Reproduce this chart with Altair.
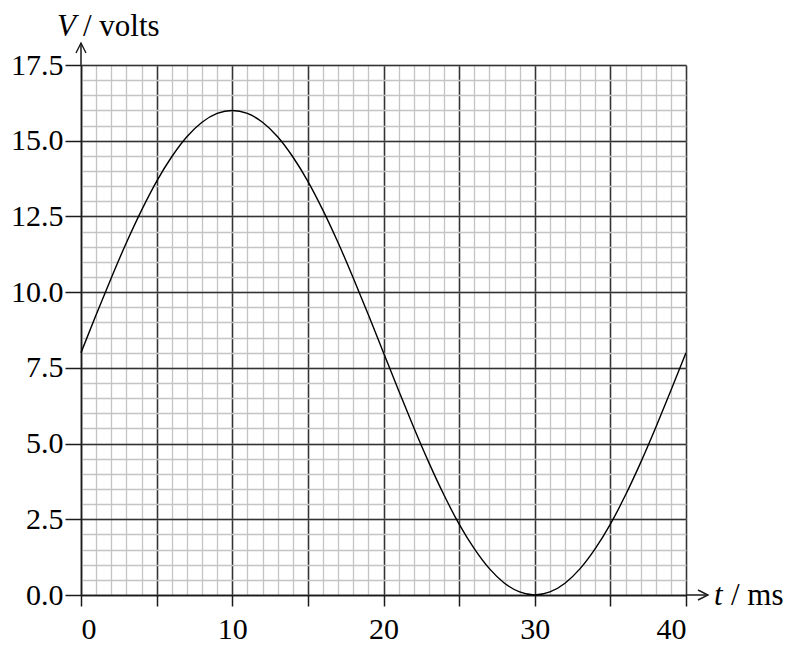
import altair as alt
import pandas as pd

# values
t_ms = list(range(0, 41))
v_volts = [8.00, 9.25, 10.47, 11.63, 12.70, 13.66, 14.47, 15.13, 15.61, 15.90,
           16.00, 15.90, 15.61, 15.13, 14.47, 13.66, 12.70, 11.63, 10.47, 9.25,
           8.00, 6.75, 5.53, 4.37, 3.30, 2.34, 1.53, 0.87, 0.39, 0.10,
           0.00, 0.10, 0.39, 0.87, 1.53, 2.34, 3.30, 4.37, 5.53, 6.75, 8.00]
x_major = [0, 5, 10, 15, 20, 25, 30, 35, 40]
y_major = [0, 2.5, 5, 7.5, 10, 12.5, 15, 17.5]
x_minor = list(range(0, 41))
y_minor = [i * 0.5 for i in range(0, 36)]

df = pd.DataFrame({"t": t_ms, "V": v_volts})

W, H = 605, 530
FONT = "Liberation Serif"
FS = 30
FT = 31

xs = alt.Scale(domain=[0, 40], nice=False, zero=False)
ys = alt.Scale(domain=[0, 17.5], nice=False, zero=False)

base = alt.Chart(df)

minor = base.mark_line(opacity=0).encode(
    x=alt.X("t:Q", scale=xs, axis=alt.Axis(values=x_minor, grid=True, gridColor="#c4c4c4",
                                            gridWidth=1.3, labels=False, ticks=False, domain=False,
                                            title=None, orient="bottom")),
    y=alt.Y("V:Q", scale=ys, axis=alt.Axis(values=y_minor, grid=True, gridColor="#c4c4c4",
                                            gridWidth=1.3, labels=False, ticks=False, domain=False,
                                            title=None, orient="left")),
)

major = base.mark_line(opacity=0).encode(
    x=alt.X("t:Q", scale=xs, axis=alt.Axis(values=x_major, grid=True, gridColor="#333333",
                                            gridWidth=1.5, labels=True, ticks=True, tickSize=11,
                                            tickColor="#1a1a1a", tickWidth=1.5,
                                            domain=True, domainColor="#1a1a1a", domainWidth=1.5,
                                            labelFont=FONT, labelFontSize=FS, labelColor="black",
                                            labelExpr="datum.value % 10 == 0 ? datum.label : ''",
                                            labelPadding=8, format="d", title=None, orient="bottom")),
    y=alt.Y("V:Q", scale=ys, axis=alt.Axis(values=y_major, grid=True, gridColor="#333333",
                                            gridWidth=1.5, labels=True, ticks=True, tickSize=16,
                                            tickColor="#1a1a1a", tickWidth=1.5,
                                            domain=True, domainColor="#1a1a1a", domainWidth=1.5,
                                            labelFont=FONT, labelFontSize=FS, labelColor="black",
                                            labelPadding=2, format=".1f", title=None, orient="left")),
)

curve = base.mark_line(color="black", strokeWidth=1.4, interpolate="monotone").encode(
    x=alt.X("t:Q", scale=xs, axis=None),
    y=alt.Y("V:Q", scale=ys, axis=None),
)

one = alt.Data(values=[{"a": 0}])

y_arrow_line = alt.Chart(one).mark_rule(color="#1a1a1a", strokeWidth=1.5).encode(
    x=alt.value(0), y=alt.value(0), y2=alt.value(-22))
y_arrow_head = alt.Chart(one).mark_point(shape="M -1 2 L 0 0 L 1 2", size=100, filled=False,
                                         color="#1a1a1a", strokeWidth=1.4, opacity=1).encode(
    x=alt.value(0), y=alt.value(-22))
x_arrow_line = alt.Chart(one).mark_rule(color="#1a1a1a", strokeWidth=1.5).encode(
    x=alt.value(W), x2=alt.value(W + 22), y=alt.value(H))
x_arrow_head = alt.Chart(one).mark_point(shape="M -2 -1 L 0 0 L -2 1", size=100, filled=False,
                                         color="#1a1a1a", strokeWidth=1.4, opacity=1).encode(
    x=alt.value(W + 22), y=alt.value(H))

def txt(s, x, y, italic=False):
    return alt.Chart(one).mark_text(align="left", baseline="alphabetic", font=FONT,
                                    fontSize=FT, fontStyle="italic" if italic else "normal",
                                    color="black").encode(
        x=alt.value(x), y=alt.value(y), text=alt.value(s))

title_v = txt("V", -24, -29, italic=True)
title_v2 = txt("/ volts", 2, -29)
title_t = txt("t", W + 28, H + 10, italic=True)
title_t2 = txt("/ ms", W + 45, H + 10)

chart = alt.layer(minor, major, curve, y_arrow_line, y_arrow_head, x_arrow_line, x_arrow_head,
                  title_v, title_v2, title_t, title_t2).resolve_axis(
    x="independent", y="independent").properties(
    width=W, height=H,
    autosize=alt.AutoSizeParams(type="none"),
    padding={"left": 73, "top": 57, "right": 98, "bottom": 50},
).configure_view(stroke=None)

chart.save("out.html", embed_options={"renderer": "svg", "actions": False})
